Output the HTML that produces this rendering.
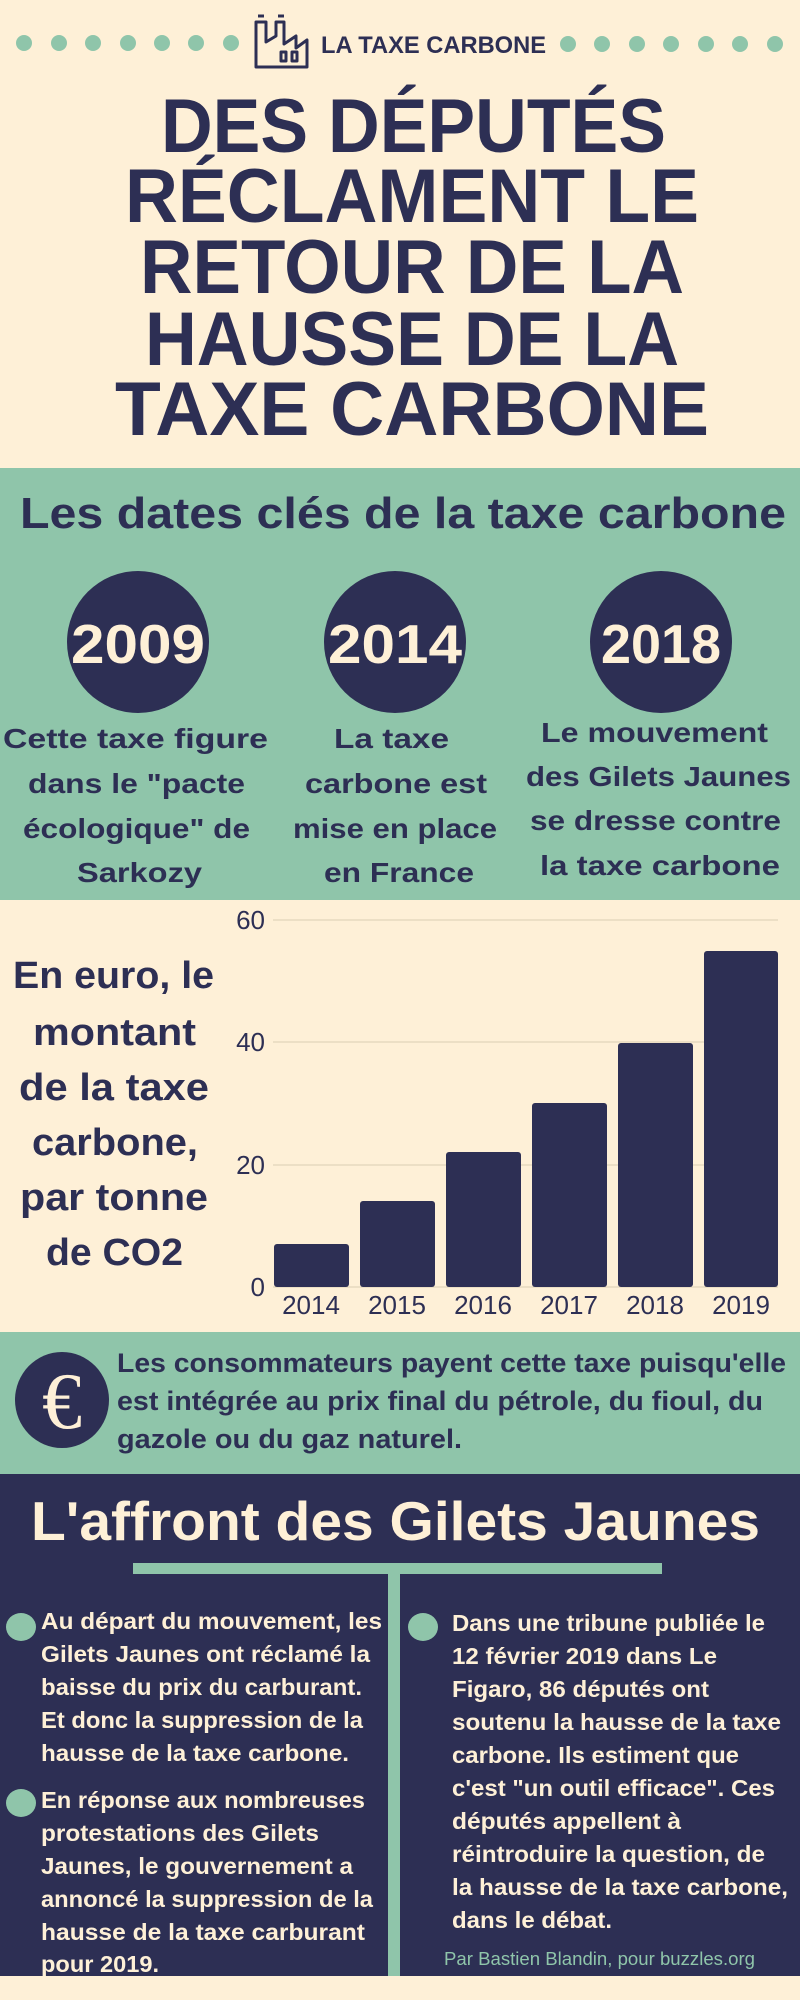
<!DOCTYPE html>
<html><head><meta charset="utf-8"><style>
html,body{margin:0;padding:0;background:#fef0d7;}
svg{display:block}
text{font-family:"Liberation Sans",sans-serif;font-weight:bold;}
</style></head><body>
<svg width="800" height="2000" viewBox="0 0 800 2000" xmlns="http://www.w3.org/2000/svg">
<rect x="0" y="0" width="800" height="2000" fill="#fef0d7"/>
<g fill="#8fc5aa">
<circle cx="24" cy="43" r="8"/><circle cx="59" cy="43" r="8"/><circle cx="93" cy="43" r="8"/><circle cx="128" cy="43" r="8"/><circle cx="162" cy="43" r="8"/><circle cx="196" cy="43" r="8"/><circle cx="231" cy="43" r="8"/>
<circle cx="568" cy="44" r="8"/><circle cx="602" cy="44" r="8"/><circle cx="637" cy="44" r="8"/><circle cx="671" cy="44" r="8"/><circle cx="706" cy="44" r="8"/><circle cx="740" cy="44" r="8"/><circle cx="775" cy="44" r="8"/>
</g>
<g fill="none" stroke="#2d2f54" stroke-width="3" stroke-linejoin="round">
<path d="M256 67 V22 H266 V42 L276 36 V22 H284 V44 L296 36 V48 L307 40 V67 Z"/>
<path d="M258 16 H264 M278 16 H284"/>
<rect x="281" y="52" width="5" height="9"/><rect x="292" y="52" width="5" height="9"/>
</g>
<text x="321" y="53" font-size="24" fill="#2d2f54" textLength="225" lengthAdjust="spacingAndGlyphs">LA TAXE CARBONE</text>
<g fill="#2d2f54" font-size="76">
<text x="161" y="152" textLength="505" lengthAdjust="spacingAndGlyphs">DES DÉPUTÉS</text>
<text x="125" y="222" textLength="574" lengthAdjust="spacingAndGlyphs">RÉCLAMENT LE</text>
<text x="140" y="293" textLength="544" lengthAdjust="spacingAndGlyphs">RETOUR DE LA</text>
<text x="145" y="365" textLength="534" lengthAdjust="spacingAndGlyphs">HAUSSE DE LA</text>
<text x="115" y="435" textLength="594" lengthAdjust="spacingAndGlyphs">TAXE CARBONE</text>
</g>
<rect x="0" y="468" width="800" height="432" fill="#8fc5aa"/>
<text x="20" y="528" font-size="44" fill="#2d2f54" textLength="766" lengthAdjust="spacingAndGlyphs">Les dates clés de la taxe carbone</text>
<g fill="#2d2f54">
<circle cx="138" cy="642" r="71"/><circle cx="395" cy="642" r="71"/><circle cx="661" cy="642" r="71"/>
</g>
<g fill="#fef0d7" font-size="55" text-anchor="middle">
<text x="138" y="663" textLength="134" lengthAdjust="spacingAndGlyphs">2009</text>
<text x="395" y="663" textLength="134" lengthAdjust="spacingAndGlyphs">2014</text>
<text x="661" y="663" textLength="120" lengthAdjust="spacingAndGlyphs">2018</text>
</g>
<g fill="#2d2f54" font-size="28">
<text x="3" y="748" textLength="265" lengthAdjust="spacingAndGlyphs">Cette taxe figure</text>
<text x="28" y="793" textLength="217" lengthAdjust="spacingAndGlyphs">dans le "pacte</text>
<text x="23" y="838" textLength="227" lengthAdjust="spacingAndGlyphs">écologique" de</text>
<text x="77" y="882" textLength="125" lengthAdjust="spacingAndGlyphs">Sarkozy</text>
<text x="334" y="748" textLength="115" lengthAdjust="spacingAndGlyphs">La taxe</text>
<text x="305" y="793" textLength="182" lengthAdjust="spacingAndGlyphs">carbone est</text>
<text x="293" y="838" textLength="204" lengthAdjust="spacingAndGlyphs">mise en place</text>
<text x="324" y="882" textLength="150" lengthAdjust="spacingAndGlyphs">en France</text>
<text x="541" y="742" textLength="227" lengthAdjust="spacingAndGlyphs">Le mouvement</text>
<text x="526" y="786" textLength="265" lengthAdjust="spacingAndGlyphs">des Gilets Jaunes</text>
<text x="530" y="830" textLength="251" lengthAdjust="spacingAndGlyphs">se dresse contre</text>
<text x="540" y="875" textLength="240" lengthAdjust="spacingAndGlyphs">la taxe carbone</text>
</g>
<g fill="#2d2f54" font-size="38">
<text x="13" y="988" textLength="201" lengthAdjust="spacingAndGlyphs">En euro, le</text>
<text x="33" y="1045" textLength="163" lengthAdjust="spacingAndGlyphs">montant</text>
<text x="19" y="1100" textLength="190" lengthAdjust="spacingAndGlyphs">de la taxe</text>
<text x="32" y="1155" textLength="166" lengthAdjust="spacingAndGlyphs">carbone,</text>
<text x="20" y="1210" textLength="188" lengthAdjust="spacingAndGlyphs">par tonne</text>
<text x="46" y="1265" textLength="137" lengthAdjust="spacingAndGlyphs">de CO2</text>
</g>
<g stroke="#e6d9bf" stroke-width="1.5">
<line x1="273" y1="920" x2="778" y2="920"/><line x1="273" y1="1042" x2="778" y2="1042"/><line x1="273" y1="1165" x2="778" y2="1165"/><line x1="273" y1="1287" x2="778" y2="1287"/>
</g>
<g fill="#2d2f54">
<rect x="274" y="1244" width="75" height="43" rx="3"/>
<rect x="360" y="1201" width="75" height="86" rx="3"/>
<rect x="446" y="1152" width="75" height="135" rx="3"/>
<rect x="532" y="1103" width="75" height="184" rx="3"/>
<rect x="618" y="1043" width="75" height="244" rx="3"/>
<rect x="704" y="951" width="74" height="336" rx="3"/>
</g>
<g fill="#2d2f54" font-size="26" text-anchor="end">
<text x="265" y="929" style="font-weight:normal">60</text>
<text x="265" y="1051" style="font-weight:normal">40</text>
<text x="265" y="1174" style="font-weight:normal">20</text>
<text x="265" y="1296" style="font-weight:normal">0</text>
</g>
<g fill="#2d2f54" font-size="26" text-anchor="middle">
<text x="311" y="1314" style="font-weight:normal">2014</text>
<text x="397" y="1314" style="font-weight:normal">2015</text>
<text x="483" y="1314" style="font-weight:normal">2016</text>
<text x="569" y="1314" style="font-weight:normal">2017</text>
<text x="655" y="1314" style="font-weight:normal">2018</text>
<text x="741" y="1314" style="font-weight:normal">2019</text>
</g>
<rect x="0" y="1332" width="800" height="142" fill="#8fc5aa"/>
<ellipse cx="62" cy="1400" rx="47" ry="48" fill="#2d2f54"/>
<text x="62" y="1428" font-size="80" fill="#fef0d7" text-anchor="middle" style="font-family:'Liberation Serif',serif;font-weight:normal">€</text>
<g fill="#2d2f54" font-size="27">
<text x="117" y="1372" textLength="669" lengthAdjust="spacingAndGlyphs">Les consommateurs payent cette taxe puisqu'elle</text>
<text x="117" y="1410" textLength="646" lengthAdjust="spacingAndGlyphs">est intégrée au prix final du pétrole, du fioul, du</text>
<text x="117" y="1448" textLength="345" lengthAdjust="spacingAndGlyphs">gazole ou du gaz naturel.</text>
</g>
<rect x="0" y="1474" width="800" height="502" fill="#2d2f54"/>
<text x="31" y="1540" font-size="55" fill="#fef0d7" textLength="729" lengthAdjust="spacingAndGlyphs">L'affront des Gilets Jaunes</text>
<rect x="133" y="1563" width="529" height="11" fill="#8fc5aa"/>
<rect x="388" y="1574" width="12" height="402" fill="#8fc5aa"/>
<g fill="#8fc5aa">
<ellipse cx="21" cy="1627" rx="15" ry="14"/><ellipse cx="21" cy="1803" rx="15" ry="14"/><ellipse cx="423" cy="1627" rx="15" ry="14"/>
</g>
<g fill="#fef0d7" font-size="23">
<text x="41" y="1629" textLength="341" lengthAdjust="spacingAndGlyphs">Au départ du mouvement, les</text>
<text x="41" y="1662" textLength="329" lengthAdjust="spacingAndGlyphs">Gilets Jaunes ont réclamé la</text>
<text x="41" y="1695" textLength="321" lengthAdjust="spacingAndGlyphs">baisse du prix du carburant.</text>
<text x="41" y="1728" textLength="322" lengthAdjust="spacingAndGlyphs">Et donc la suppression de la</text>
<text x="41" y="1761" textLength="308" lengthAdjust="spacingAndGlyphs">hausse de la taxe carbone.</text>
<text x="41" y="1808" textLength="324" lengthAdjust="spacingAndGlyphs">En réponse aux nombreuses</text>
<text x="41" y="1841" textLength="278" lengthAdjust="spacingAndGlyphs">protestations des Gilets</text>
<text x="41" y="1874" textLength="312" lengthAdjust="spacingAndGlyphs">Jaunes, le gouvernement a</text>
<text x="41" y="1907" textLength="332" lengthAdjust="spacingAndGlyphs">annoncé la suppression de la</text>
<text x="41" y="1940" textLength="324" lengthAdjust="spacingAndGlyphs">hausse de la taxe carburant</text>
<text x="41" y="1972" textLength="118" lengthAdjust="spacingAndGlyphs">pour 2019.</text>
<text x="452" y="1631" textLength="313" lengthAdjust="spacingAndGlyphs">Dans une tribune publiée le</text>
<text x="452" y="1664" textLength="265" lengthAdjust="spacingAndGlyphs">12 février 2019 dans Le</text>
<text x="452" y="1697" textLength="257" lengthAdjust="spacingAndGlyphs">Figaro, 86 députés ont</text>
<text x="452" y="1730" textLength="329" lengthAdjust="spacingAndGlyphs">soutenu la hausse de la taxe</text>
<text x="452" y="1763" textLength="287" lengthAdjust="spacingAndGlyphs">carbone. Ils estiment que</text>
<text x="452" y="1796" textLength="323" lengthAdjust="spacingAndGlyphs">c'est "un outil efficace". Ces</text>
<text x="452" y="1829" textLength="229" lengthAdjust="spacingAndGlyphs">députés appellent à</text>
<text x="452" y="1862" textLength="313" lengthAdjust="spacingAndGlyphs">réintroduire la question, de</text>
<text x="452" y="1895" textLength="336" lengthAdjust="spacingAndGlyphs">la hausse de la taxe carbone,</text>
<text x="452" y="1928" textLength="160" lengthAdjust="spacingAndGlyphs">dans le débat.</text>
</g>
<text x="444" y="1965" font-size="18" fill="#8fc5aa" textLength="311" lengthAdjust="spacingAndGlyphs" style="font-weight:normal">Par Bastien Blandin, pour buzzles.org</text>
</svg>
</body></html>
